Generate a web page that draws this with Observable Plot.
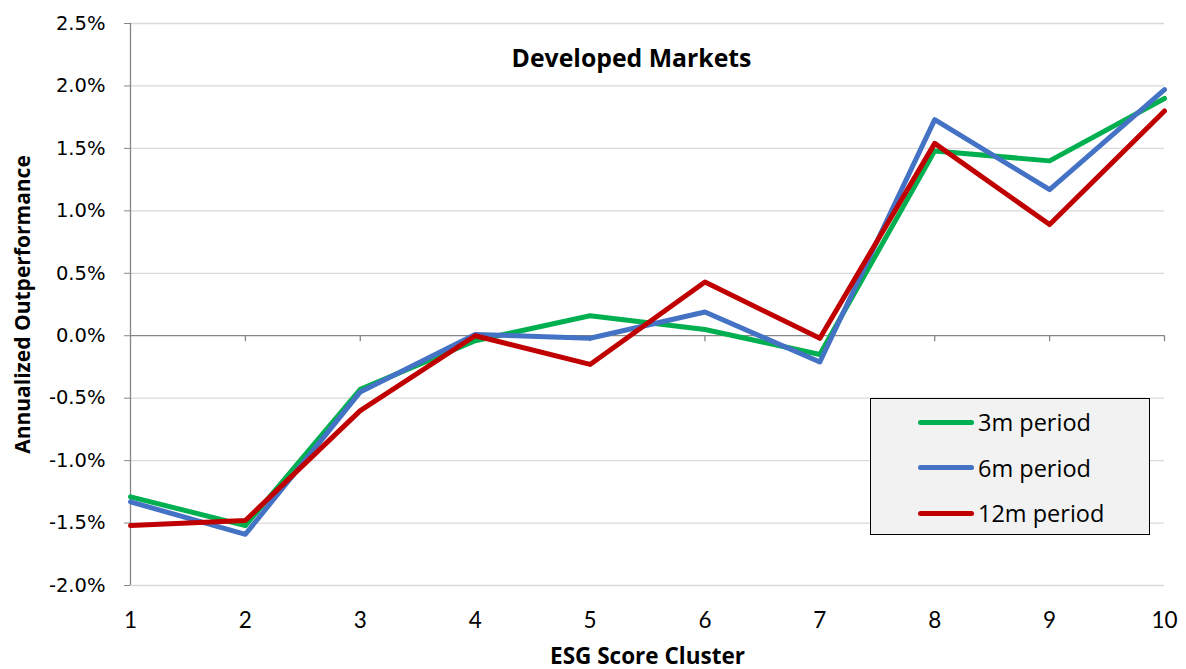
<!DOCTYPE html>
<html><head>
<meta charset="utf-8">
<script src="https://cdn.jsdelivr.net/npm/d3@7"></script>
<script src="https://cdn.jsdelivr.net/npm/@observablehq/plot@0.6"></script>
<style>
body{margin:0;background:#fff;}
#wrap{position:relative;width:1186px;height:669px;font-family:Lato, sans-serif;}
#legend{position:absolute;left:870px;top:398px;width:278px;height:135px;background:#f2f2f2;border:1.5px solid #000;}
.item{position:absolute;left:47px;height:30px;display:flex;align-items:center;font-family:"Open Sans", sans-serif;font-size:23.5px;color:#000;}
.item span.sw{display:inline-block;width:56px;height:5px;border-radius:3px;margin-right:4px;}
</style>
</head><body><div id="wrap"></div>
<script>
const clusters = [1, 2, 3, 4, 5, 6, 7, 8, 9, 10];
const seriesNames = ["3m period", "6m period", "12m period"];
const colors = ["#00b050", "#4472c4", "#c00000"];
const values3m = [-1.29, -1.52, -0.43, -0.04, 0.16, 0.05, -0.15, 1.48, 1.40, 1.90];
const values6m = [-1.33, -1.59, -0.45, 0.01, -0.02, 0.19, -0.21, 1.73, 1.17, 1.97];
const values12m = [-1.52, -1.48, -0.60, 0.00, -0.23, 0.43, -0.02, 1.54, 0.89, 1.80];
const yTicks = [-2.0, -1.5, -1.0, -0.5, 0.0, 0.5, 1.0, 1.5, 2.0, 2.5];
const chartTitle = "Developed Markets";
const xTitle = "ESG Score Cluster";
const yTitle = "Annualized Outperformance";

const allValues = [values3m, values6m, values12m];
const data = [];
seriesNames.forEach((s, k) => clusters.forEach((c, i) => data.push({series: s, cluster: c, value: allValues[k][i]})));

const titleFont = "'Open Sans', sans-serif";
const chart = Plot.plot({
  width: 1186, height: 669,
  marginLeft: 130, marginRight: 22, marginTop: 23, marginBottom: 84,
  style: {fontFamily: "Lato, sans-serif", fontSize: "20px", color: "#000", background: "#fff"},
  x: {domain: [1, 10]},
  y: {domain: [-2.0, 2.5]},
  color: {domain: seriesNames, range: colors},
  marks: [
    Plot.gridY(yTicks.filter(d => d !== 0), {stroke: "#d9d9d9", strokeOpacity: 1, strokeWidth: 1.3}),
    Plot.ruleY([0], {stroke: "#868686", strokeWidth: 1.3}),
    Plot.ruleX(clusters.slice(1), {x: d => d, y1: 0, y2: 0, insetBottom: -6, stroke: "#868686", strokeWidth: 1.3}),
    Plot.ruleX([1], {stroke: "#868686", strokeWidth: 1.3}),
    Plot.axisY({ticks: yTicks, tickFormat: d => d.toFixed(1) + "%", tickSize: 6, tickPadding: 19, stroke: "#868686", fill: "#000", label: null}),
    Plot.axisX({ticks: clusters, tickFormat: d => String(d), tickSize: 0, tickPadding: 27, label: null, fontSize: 22.5}),
    Plot.line(data, {x: "cluster", y: "value", z: "series", stroke: "series", strokeWidth: 5, strokeLinejoin: "round", strokeLinecap: "round"}),
    Plot.text([chartTitle], {frameAnchor: "top", dx: -16, dy: 26, fontWeight: "bold", fontSize: 24.8, fontFamily: titleFont, fill: "#000"}),
    Plot.text([xTitle], {frameAnchor: "bottom", dy: 78, fontWeight: "bold", fontSize: 22.5, fontFamily: titleFont, fill: "#000"}),
    Plot.text([yTitle], {frameAnchor: "left", textAnchor: "middle", dx: -107, rotate: -90, fontWeight: "bold", fontSize: 21, fontFamily: titleFont, fill: "#000"})
  ]
});
// wider face for the y tick labels, as in the reference
chart.querySelectorAll('[aria-label="y-axis tick label"]').forEach(g => {
  g.setAttribute("font-family", "'DejaVu Sans', sans-serif");
  g.setAttribute("font-size", "19.5");
  g.style.fontFamily = "'DejaVu Sans', sans-serif";
  g.style.fontSize = "19.5px";
});
const wrap = document.getElementById("wrap");
wrap.appendChild(chart);
const legend = document.createElement("div");
legend.id = "legend";
seriesNames.forEach((s, k) => {
  const it = document.createElement("div");
  it.className = "item";
  it.style.top = (8 + k * 45.5) + "px";
  const sw = document.createElement("span");
  sw.className = "sw";
  sw.style.background = colors[k];
  it.appendChild(sw);
  it.appendChild(document.createTextNode(s));
  legend.appendChild(it);
});
wrap.appendChild(legend);
</script>
</body></html>
